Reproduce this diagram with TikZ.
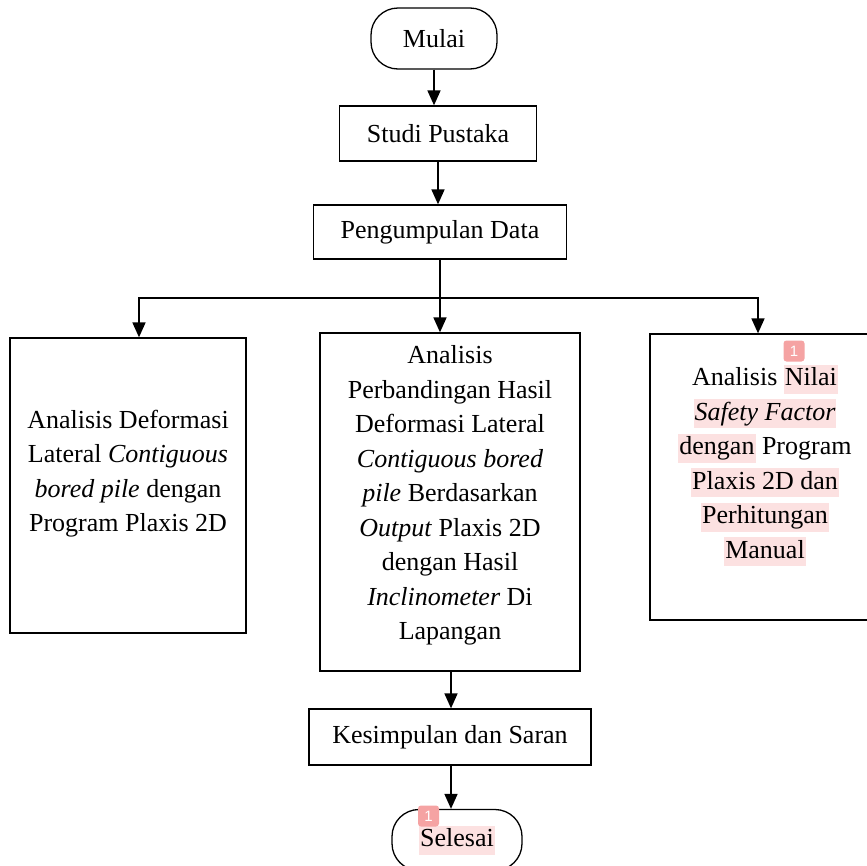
\documentclass[tikz,border=0pt]{standalone}
\usepackage{fontspec}
\setmainfont{Liberation Serif}
\newfontfamily\badgefont{Liberation Sans}
\usetikzlibrary{arrows.meta}
\definecolor{hlpink}{HTML}{FCE1E1}
\definecolor{badgec}{HTML}{F5A3A3}
\newcommand{\hlw}[1]{{\setlength{\fboxsep}{0pt}\colorbox{hlpink}{\kern1pt\vrule height 21pt depth 8pt width 0pt#1\kern1pt}}}
\tikzset{
  box/.style={draw, line width=1.3pt, inner sep=0pt, font=\fontsize{26}{34.5}\selectfont},
  term/.style={box, rounded corners=27pt},
  arr/.style={-{Triangle[width=13pt,length=15pt]}, line width=1.7pt},
  txt/.style={font=\fontsize{26}{34.5}\selectfont, align=center, inner sep=0pt},
  badge/.style={fill=badgec, rounded corners=3pt, minimum size=21pt, inner sep=0pt, text=white, font=\badgefont\fontsize{15}{15}\selectfont},
}
\begin{document}
\begin{tikzpicture}[x=1pt,y=-1pt]
\useasboundingbox (0,0) rectangle (867,865);
\clip (0,0) rectangle (867,865);
% boxes
\node[term, minimum width=126pt, minimum height=61pt] (mulai) at (434,38.5) {Mulai};
\node[box, minimum width=197pt, minimum height=55pt] (studi) at (438,133.5) {Studi Pustaka};
\node[box, minimum width=253pt, minimum height=54pt] (peng) at (440,232) {Pengumpulan Data};
\node[box, minimum width=236pt, minimum height=295pt] (left) at (128,485.5) {};
\node[box, minimum width=260pt, minimum height=338pt] (mid) at (450,502) {};
\node[box, minimum width=230pt, minimum height=286pt] (right) at (765,477) {};
\node[box, minimum width=282pt, minimum height=56pt] (kes) at (450,737) {Kesimpulan dan Saran};
\node[term, minimum width=130pt, minimum height=61pt] (sel) at (457,840) {\hlw{Selesai}};
% texts
\node[txt] (lefttxt) at (128,473.5) {Analisis Deformasi\\Lateral \textit{Contiguous}\\\textit{bored pile} dengan\\Program Plaxis 2D};
\node[txt] (midtxt) at (450,495.5) {Analisis\\Perbandingan Hasil\\Deformasi Lateral\\\textit{Contiguous bored}\\\textit{pile} Berdasarkan\\\textit{Output} Plaxis 2D\\dengan Hasil\\\textit{Inclinometer} Di\\Lapangan};
\node[txt] (righttxt) at (765,465.5) {Analisis \hlw{Nilai}\\\hlw{\textit{Safety Factor}}\\\hlw{dengan} Program\\\hlw{Plaxis 2D dan}\\\hlw{Perhitungan}\\\hlw{Manual}};
% badges
\node[badge] (b1) at (794,351) {1};
\node[badge] (b2) at (428.5,816) {1};
% connectors
\coordinate (j) at (440,298);
\draw[arr] (mulai.south) -- (mulai.south |- studi.north);
\draw[arr] (studi.south) -- (studi.south |- peng.north);
\draw[line width=1.7pt] (peng.south) -- (j);
\draw[arr] (j) -| ([xshift=11pt]left.north);
\draw[arr] (j) -| ([xshift=-7pt]right.north);
\draw[arr] (j) -- (j |- mid.north);
\draw[arr] ([xshift=1pt]mid.south) -- ([xshift=1pt]mid.south |- kes.north);
\draw[arr] ([xshift=1pt]kes.south) -- ([xshift=1pt]kes.south |- sel.north);
\end{tikzpicture}
\end{document}
